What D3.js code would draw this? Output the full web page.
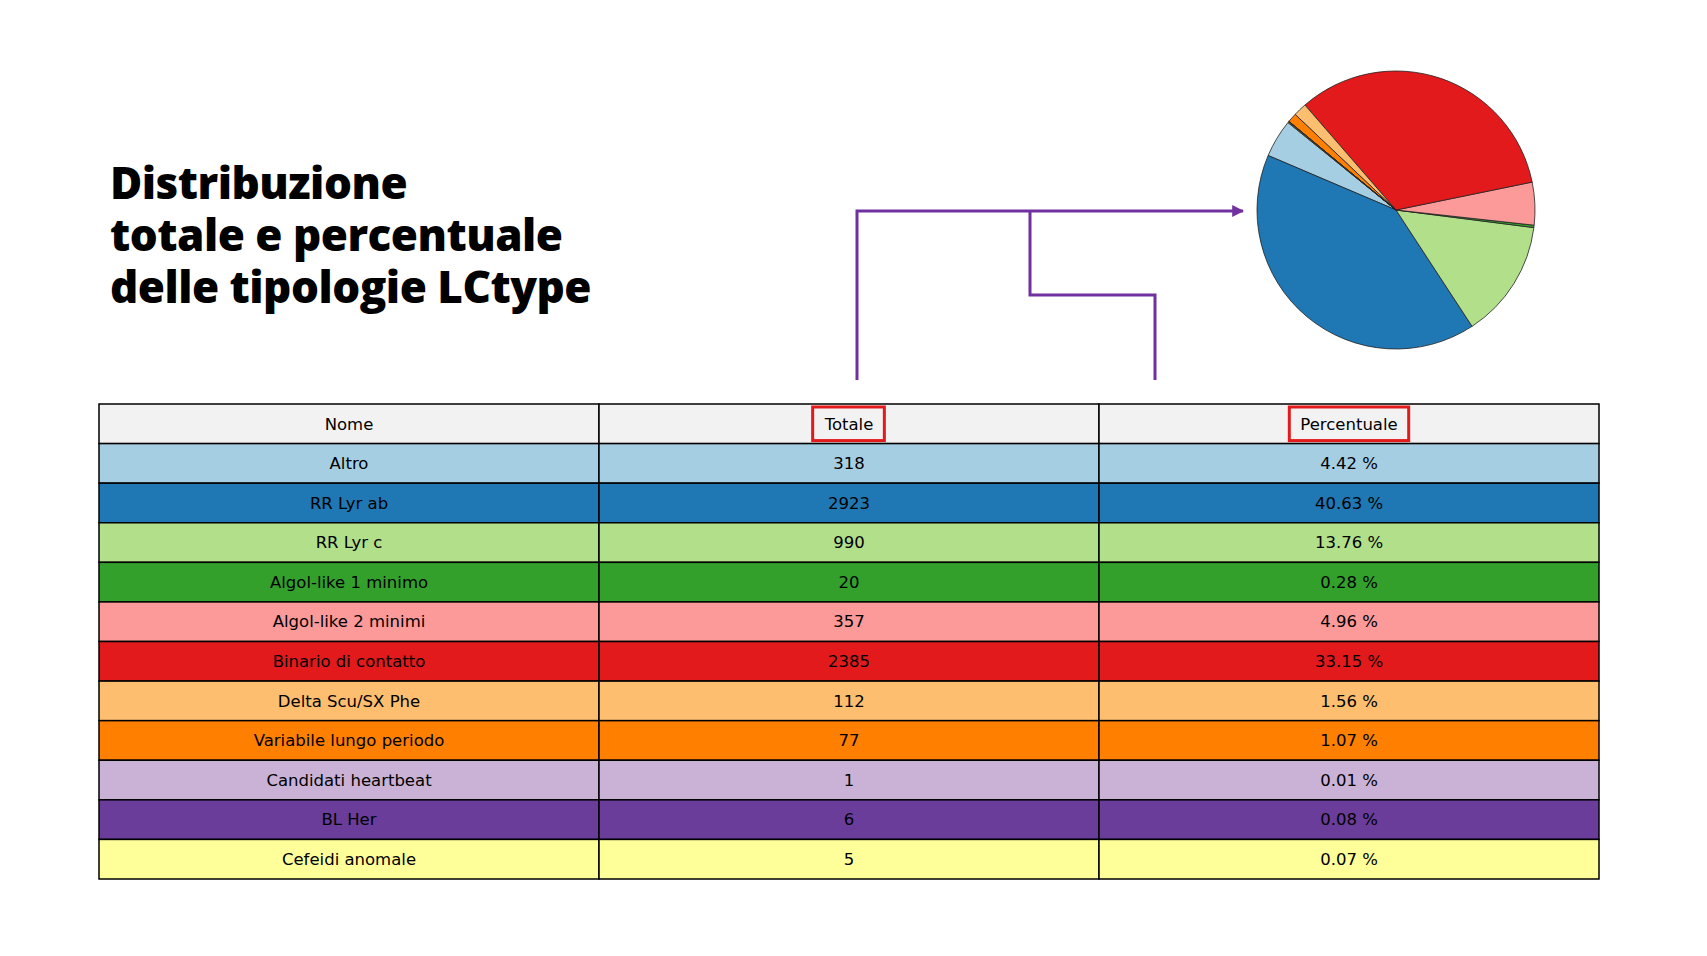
<!DOCTYPE html>
<html>
<head>
<meta charset="utf-8">
<script src="https://cdn.jsdelivr.net/npm/d3@7"></script>
<style>body{margin:0;background:#fff;}</style>
</head>
<body>
<div id="chart"></div>
<script>
const names = ['Altro', 'RR Lyr ab', 'RR Lyr c', 'Algol-like 1 minimo', 'Algol-like 2 minimi',
    'Binario di contatto', 'Delta Scu/SX Phe', 'Variabile lungo periodo', 'Candidati heartbeat',
    'BL Her', 'Cefeidi anomale'];
const totals = [318, 2923, 990, 20, 357, 2385, 112, 77, 1, 6, 5];
const percents = ['4.42 %', '40.63 %', '13.76 %', '0.28 %', '4.96 %', '33.15 %', '1.56 %', '1.07 %', '0.01 %', '0.08 %', '0.07 %'];
const headers = ['Nome', 'Totale', 'Percentuale'];
const titleLines = ['Distribuzione', 'totale e percentuale', 'delle tipologie LCtype'];

const width = 1707, height = 956;
const svg = d3.select('#chart').append('svg')
    .attr('width', width).attr('height', height);

const colors = d3.scaleOrdinal().domain(names).range(d3.schemePaired);
const data = names.map((n, i) => ({ name: n, total: totals[i], pct: percents[i] }));

// title
svg.append('g').selectAll('text')
    .data(titleLines).enter().append('text')
    .attr('x', 110)
    .attr('y', (d, i) => 199 + i * 52)
    .style('font-family', '"Open Sans", Lato, sans-serif')
    .style('font-weight', 800)
    .style('font-size', '44px')
    .style('letter-spacing', '-0.5px')
    .text(d => d);

// pie (matplotlib startangle 141, counterclockwise)
const start = (90 - 141) * Math.PI / 180;
const pie = d3.pie().value(d => d.total).sort(null)
    .startAngle(start).endAngle(start - 2 * Math.PI);
const arc = d3.arc().innerRadius(0).outerRadius(139);
svg.append('g')
    .attr('transform', 'translate(1396,210)')
    .selectAll('path')
    .data(pie(data)).enter().append('path')
    .attr('d', arc)
    .attr('fill', d => colors(d.data.name))
    .attr('stroke', '#222')
    .attr('stroke-width', 0.8);

// connector lines
const purple = '#7030a0';
svg.append('defs').append('marker')
    .attr('id', 'arr').attr('viewBox', '0 0 10 10')
    .attr('refX', 9).attr('refY', 5)
    .attr('markerWidth', 4).attr('markerHeight', 4)
    .attr('orient', 'auto')
    .append('path').attr('d', 'M0,0L10,5L0,10Z').attr('fill', purple);
const line = d3.line();
svg.append('path')
    .attr('d', line([[857, 380], [857, 211], [1243, 211]]))
    .attr('fill', 'none').attr('stroke', purple).attr('stroke-width', 3)
    .attr('marker-end', 'url(#arr)');
svg.append('path')
    .attr('d', line([[1155, 380], [1155, 295], [1030, 295], [1030, 211]]))
    .attr('fill', 'none').attr('stroke', purple).attr('stroke-width', 3);

// table
const x = d3.scaleBand().domain(headers).range([99, 1599]);
const y = d3.scaleBand().domain(d3.range(names.length + 1)).range([404, 879]);
const rows = [headers.map(h => ({ text: h, fill: '#f2f2f2' }))].concat(
    data.map(d => [d.name, String(d.total), d.pct].map(t => ({ text: t, fill: colors(d.name) }))));

const tbl = svg.append('g');
rows.forEach((r, i) => {
    r.forEach((c, j) => {
        const g = tbl.append('g');
        g.append('rect')
            .attr('x', x(headers[j])).attr('y', y(i))
            .attr('width', x.bandwidth()).attr('height', y.bandwidth())
            .attr('fill', c.fill).attr('stroke', '#000').attr('stroke-width', 1.5);
        const t = g.append('text')
            .attr('x', x(headers[j]) + x.bandwidth() / 2)
            .attr('y', y(i) + y.bandwidth() / 2)
            .attr('dy', '.35em')
            .attr('text-anchor', 'middle')
            .style('font-family', '"DejaVu Sans", sans-serif')
            .style('font-size', '16.5px')
            .text(c.text);
        if (i === 0 && j > 0) {
            const b = t.node().getBBox();
            g.append('rect')
                .attr('x', b.x - 11).attr('y', y(i) + 3)
                .attr('width', b.width + 22).attr('height', y.bandwidth() - 6)
                .attr('fill', 'none').attr('stroke', '#e31a1c').attr('stroke-width', 3);
        }
    });
});
</script>
</body>
</html>
